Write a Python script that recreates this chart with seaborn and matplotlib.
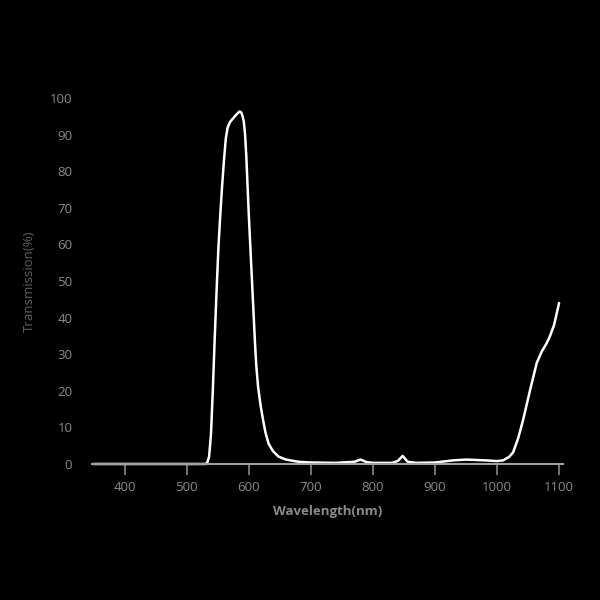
import numpy as np
import pandas as pd
import seaborn as sns
import matplotlib.pyplot as plt

# transmission curve
wavelength = [350, 400, 500, 530, 533, 536, 539, 542, 545, 548, 551, 554, 557, 560,
              563, 566, 570, 575, 580, 585, 588, 590, 592, 594, 596, 598, 600, 602,
              604, 606, 608, 610, 612, 615, 619, 623, 627, 632, 639, 648, 660, 680,
              700, 740, 770, 780, 790, 800, 830, 840, 848, 856, 870, 900, 930,
              950, 980, 1000, 1010, 1020, 1026, 1034, 1042, 1053, 1064, 1072, 1080,
              1085, 1092, 1100]
transmission = [0, 0, 0, 0, 0.3, 2, 8, 20, 34, 47, 59, 68, 76, 83,
                89, 92, 93.5, 94.5, 95.5, 96.3, 96, 95, 93.5, 90, 84, 76, 68, 61,
                54, 47, 40, 33, 27, 21, 16, 12, 8.5, 5.5, 3.5, 2, 1.2, 0.6,
                0.4, 0.3, 0.6, 1.2, 0.5, 0.3, 0.3, 0.8, 2.2, 0.6, 0.3, 0.4, 1.0,
                1.2, 1.0, 0.8, 1.0, 2.0, 3.2, 7, 12, 20, 27.6, 30.7, 33,
                34.8, 38, 44]

x_ticks = [400, 500, 600, 700, 800, 900, 1000, 1100]
y_ticks = [0, 10, 20, 30, 40, 50, 60, 70, 80, 90, 100]

df = pd.DataFrame({"wl": wavelength, "T": transmission})

sns.set_theme(style="dark")
plt.rcParams['font.family'] = ['Open Sans', 'DejaVu Sans']

fig = plt.figure(figsize=(6, 6), dpi=100, facecolor="black")
ax = fig.add_axes([0.153, 0.2267, 0.785, 0.61])
ax.set_facecolor("black")

sns.lineplot(data=df, x="wl", y="T", ax=ax, color="white", linewidth=1.8)
for l in ax.lines:
    l.set_clip_on(False)
    l.set_solid_joinstyle("round")

grey = "#8a8a8a"
ax.set_xlim(347, 1106)
ax.set_ylim(0, 100)
ax.set_xticks(x_ticks)
ax.set_yticks(y_ticks)
ax.tick_params(axis="x", colors=grey, labelsize=9.5, length=8, width=1.2,
               direction="out", bottom=True, pad=4)
ax.tick_params(axis="y", colors=grey, labelsize=9.5, length=0, pad=14)
ax.grid(False)
for side in ["top", "right", "left"]:
    ax.spines[side].set_visible(False)
ax.spines["bottom"].set_color("#a0a0a0")
ax.spines["bottom"].set_linewidth(1.5)

ax.set_xlabel("Wavelength(nm)", color=grey, fontsize=9.5, fontweight="bold", labelpad=8)
ax.set_ylabel("Transmission(%)", color="#606060", fontsize=9.5, labelpad=10)

fig.savefig("out.png", dpi=100, facecolor="black")
